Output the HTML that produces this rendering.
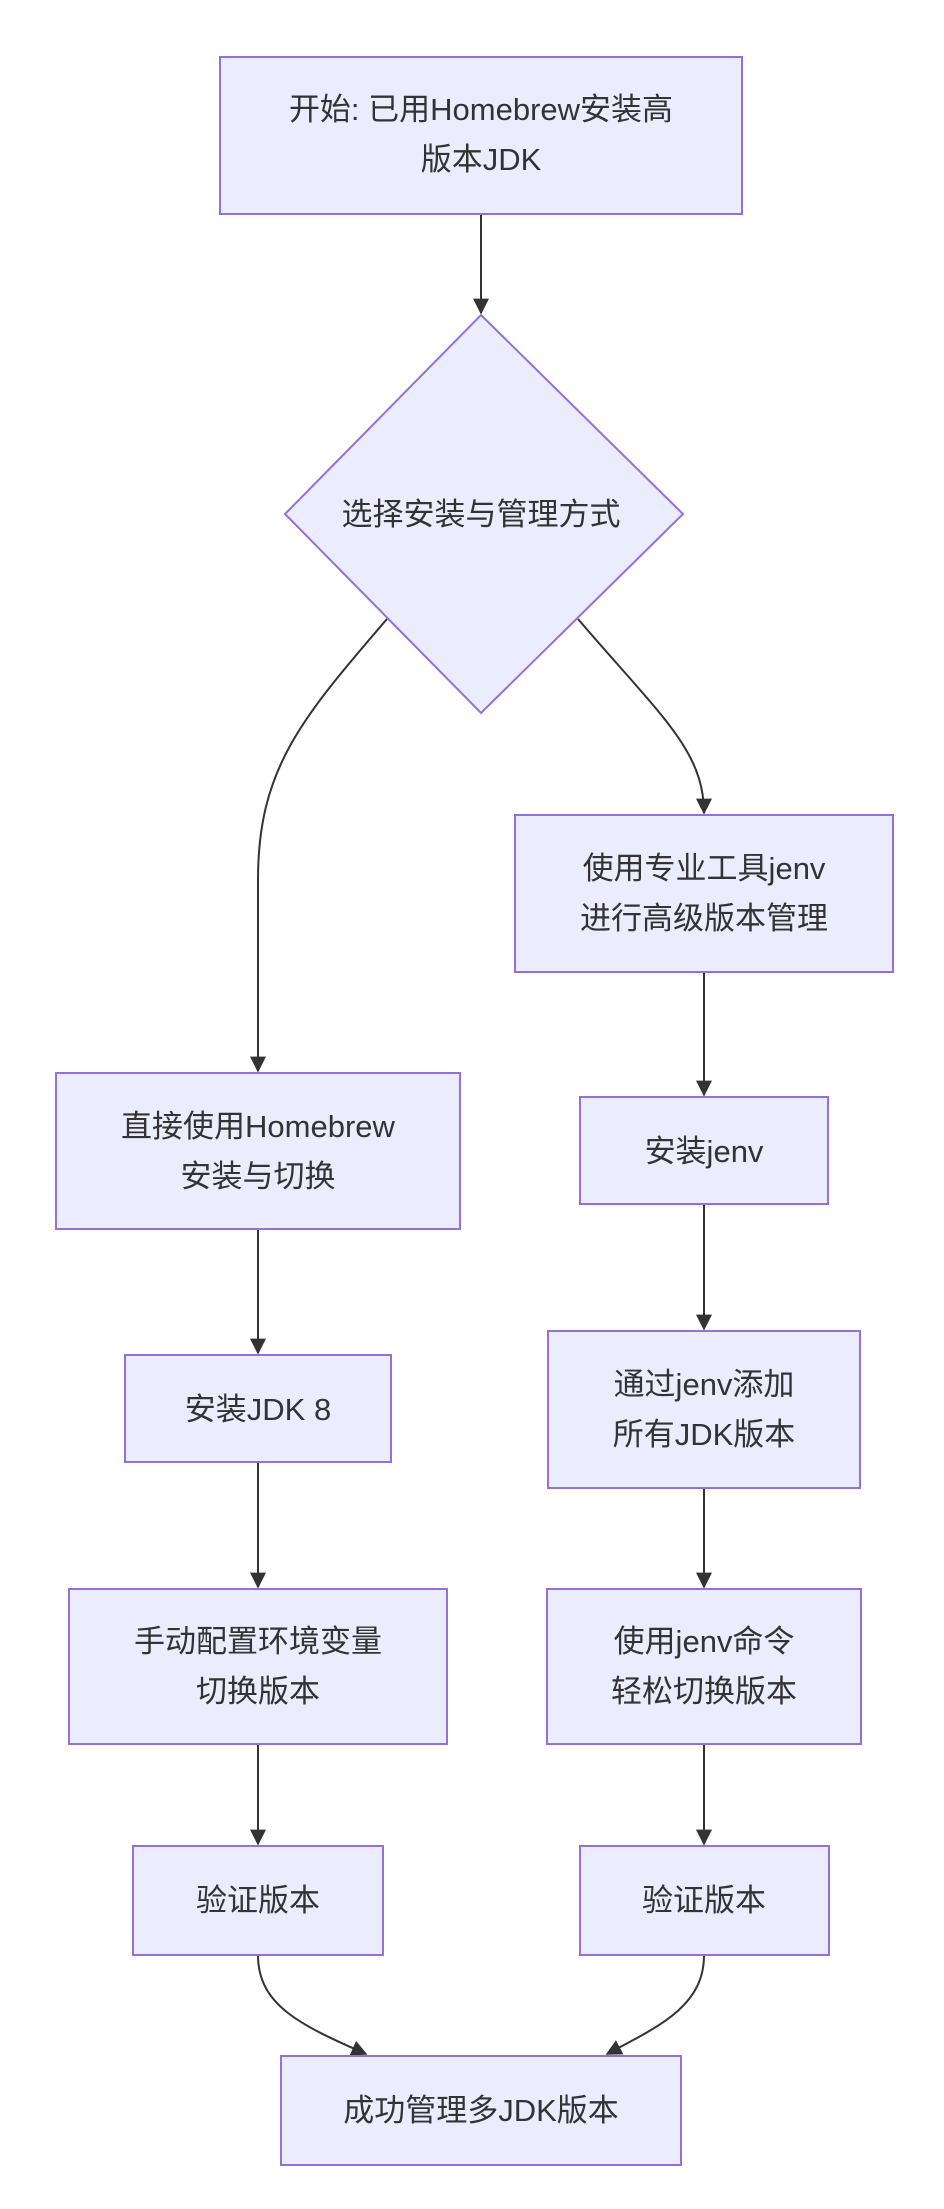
<!DOCTYPE html>
<html><head><meta charset="utf-8"><style>
body{margin:0;background:#fff}
svg text{font-family:"Liberation Sans","Noto Sans CJK SC",sans-serif;font-size:31px;fill:#333;text-anchor:middle}
.n{fill:#ececff;stroke:#9370db;stroke-width:2}
.e{fill:none;stroke:#333;stroke-width:2}
</style></head><body>
<svg width="944" height="2204" viewBox="0 0 944 2204" xmlns="http://www.w3.org/2000/svg">
<defs><marker id="a" viewBox="0 0 10 10" refX="9" refY="5" markerWidth="8" markerHeight="8" orient="auto"><path d="M0,0L10,5L0,10z" fill="#333"/></marker></defs>
<g class="e">
<path d="M481,214V313" marker-end="url(#a)"/>
<path d="M387,619C300,720 258,770 258,880V1071" marker-end="url(#a)"/>
<path d="M578,619C660,715 704,750 704,813" marker-end="url(#a)"/>
<path d="M704,972V1095" marker-end="url(#a)"/>
<path d="M704,1204V1329" marker-end="url(#a)"/>
<path d="M704,1488V1587" marker-end="url(#a)"/>
<path d="M704,1744V1844" marker-end="url(#a)"/>
<path d="M258,1229V1353" marker-end="url(#a)"/>
<path d="M258,1462V1587" marker-end="url(#a)"/>
<path d="M258,1744V1844" marker-end="url(#a)"/>
<path d="M258,1955C258,2005 300,2025 366,2054" marker-end="url(#a)"/>
<path d="M704,1955C704,2005 662,2025 607,2054" marker-end="url(#a)"/>
</g>
<rect class="n" x="220" y="57" width="522" height="157"/>
<polygon class="n" points="481,315 683,514 481,713 285,514"/>
<rect class="n" x="515" y="815" width="378" height="157"/>
<rect class="n" x="56" y="1073" width="404" height="156"/>
<rect class="n" x="580" y="1097" width="248" height="107"/>
<rect class="n" x="125" y="1355" width="266" height="107"/>
<rect class="n" x="548" y="1331" width="312" height="157"/>
<rect class="n" x="69" y="1589" width="378" height="155"/>
<rect class="n" x="547" y="1589" width="314" height="155"/>
<rect class="n" x="133" y="1846" width="250" height="109"/>
<rect class="n" x="580" y="1846" width="249" height="109"/>
<rect class="n" x="281" y="2056" width="400" height="109"/>
<text x="481" y="120">开始: 已用Homebrew安装高</text>
<text x="481" y="170">版本JDK</text>
<text x="481" y="525">选择安装与管理方式</text>
<text x="704" y="879">使用专业工具jenv</text>
<text x="704" y="929">进行高级版本管理</text>
<text x="258" y="1137">直接使用Homebrew</text>
<text x="258" y="1187">安装与切换</text>
<text x="704" y="1162">安装jenv</text>
<text x="258" y="1420">安装JDK 8</text>
<text x="704" y="1395">通过jenv添加</text>
<text x="704" y="1445">所有JDK版本</text>
<text x="258" y="1652">手动配置环境变量</text>
<text x="258" y="1702">切换版本</text>
<text x="704" y="1652">使用jenv命令</text>
<text x="704" y="1702">轻松切换版本</text>
<text x="258" y="1911">验证版本</text>
<text x="704" y="1911">验证版本</text>
<text x="481" y="2121">成功管理多JDK版本</text>
</svg>
</body></html>
